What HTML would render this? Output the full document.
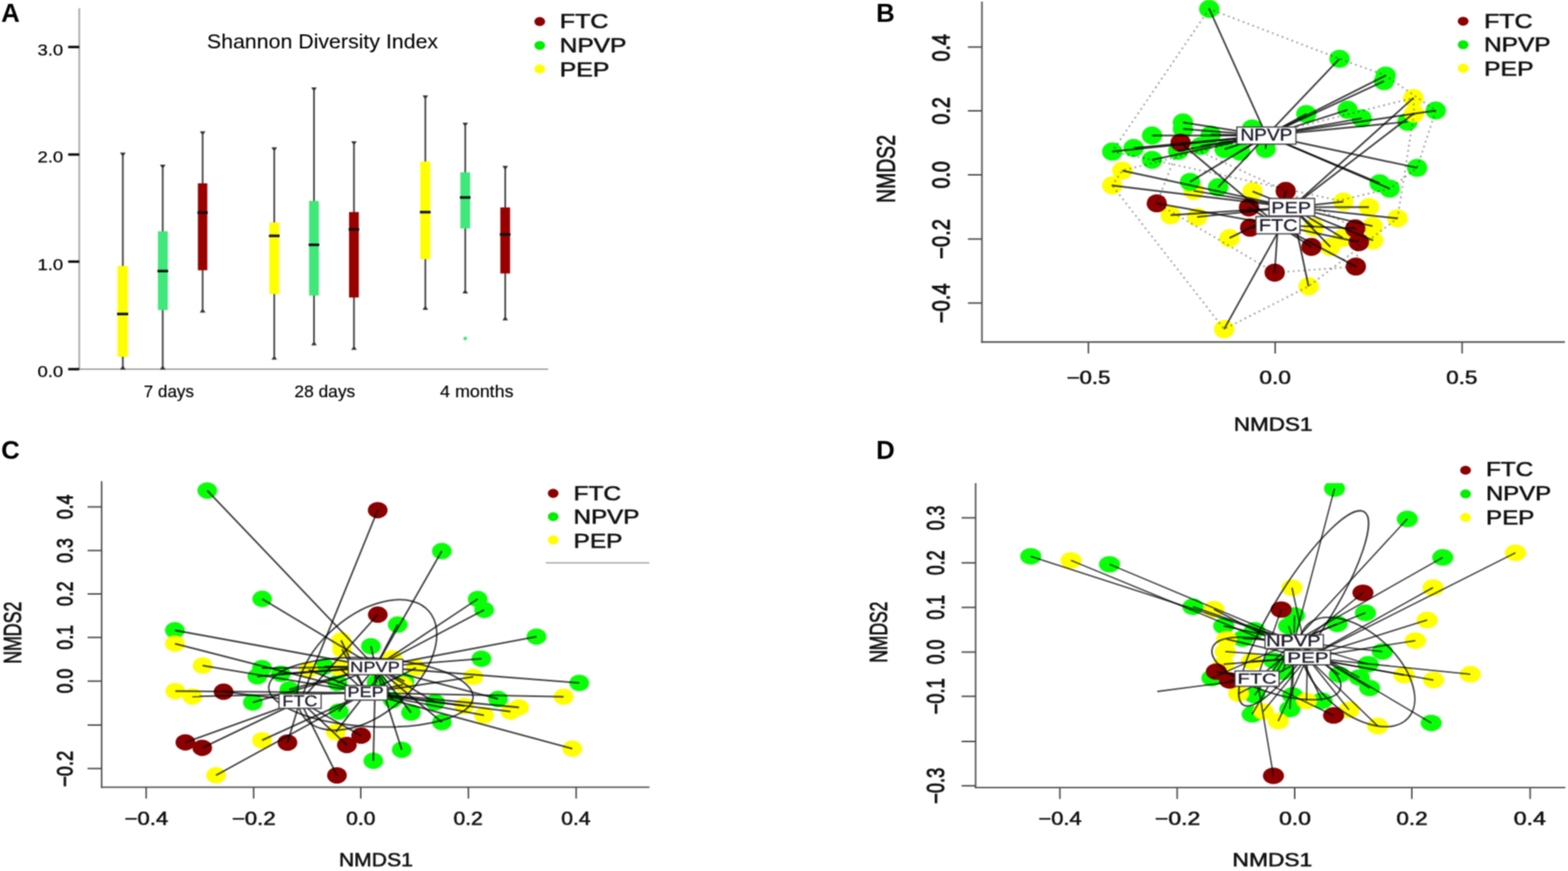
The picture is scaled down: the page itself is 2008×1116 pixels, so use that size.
<!DOCTYPE html>
<html><head><meta charset="utf-8"><title>Figure</title>
<style>
html,body{margin:0;padding:0;background:#fff;overflow:hidden;}
svg{display:block;}

</style></head>
<body>
<svg width="2008" height="1116" viewBox="0 0 2008 1116">
<defs><filter id="bl" x="0" y="0" width="1" height="1" color-interpolation-filters="sRGB"><feConvolveMatrix order="3" kernelMatrix="1 2 1 2 4 2 1 2 1" divisor="16" edgeMode="duplicate"/></filter></defs>
<rect width="2008" height="1116" fill="#fff"/>
<g filter="url(#bl)">
<rect width="2008" height="1116" fill="#fff"/>
<text x="1.5" y="28" font-family="Liberation Sans, sans-serif" font-weight="bold" font-size="33" fill="#000">A</text>
<text x="1122" y="27.6" font-family="Liberation Sans, sans-serif" font-weight="bold" font-size="33" fill="#000">B</text>
<text x="1.5" y="588.2" font-family="Liberation Sans, sans-serif" font-weight="bold" font-size="33" fill="#000">C</text>
<text x="1122" y="588.2" font-family="Liberation Sans, sans-serif" font-weight="bold" font-size="33" fill="#000">D</text>
<line x1="101.5" y1="10.5" x2="101.5" y2="474.0" stroke="#a8a8a8" stroke-width="2.2"/>
<line x1="101.5" y1="473.0" x2="702.0" y2="473.0" stroke="#a8a8a8" stroke-width="2.2"/>
<line x1="87.3" y1="60.2" x2="101.5" y2="60.2" stroke="#000" stroke-width="3.0"/>
<text x="81.0" y="70.5" font-family="Liberation Sans, sans-serif" font-size="20" font-weight="normal" fill="#000" text-anchor="end" textLength="33.0" lengthAdjust="spacingAndGlyphs" stroke="#000" stroke-width="0.25">3.0</text>
<line x1="87.3" y1="198.0" x2="101.5" y2="198.0" stroke="#000" stroke-width="3.0"/>
<text x="81.0" y="208.3" font-family="Liberation Sans, sans-serif" font-size="20" font-weight="normal" fill="#000" text-anchor="end" textLength="33.0" lengthAdjust="spacingAndGlyphs" stroke="#000" stroke-width="0.25">2.0</text>
<line x1="87.3" y1="335.2" x2="101.5" y2="335.2" stroke="#000" stroke-width="3.0"/>
<text x="81.0" y="345.5" font-family="Liberation Sans, sans-serif" font-size="20" font-weight="normal" fill="#000" text-anchor="end" textLength="33.0" lengthAdjust="spacingAndGlyphs" stroke="#000" stroke-width="0.25">1.0</text>
<line x1="87.3" y1="473.0" x2="101.5" y2="473.0" stroke="#000" stroke-width="3.0"/>
<text x="81.0" y="483.3" font-family="Liberation Sans, sans-serif" font-size="20" font-weight="normal" fill="#000" text-anchor="end" textLength="33.0" lengthAdjust="spacingAndGlyphs" stroke="#000" stroke-width="0.25">0.0</text>
<text x="265.0" y="62.3" font-family="Liberation Sans, sans-serif" font-size="26.5" font-weight="normal" fill="#000" text-anchor="start" textLength="296.0" lengthAdjust="spacingAndGlyphs" stroke="#000" stroke-width="0.1">Shannon Diversity Index</text>
<text x="184.0" y="509.2" font-family="Liberation Sans, sans-serif" font-size="22" font-weight="normal" fill="#000" text-anchor="start" textLength="64.5" lengthAdjust="spacingAndGlyphs" stroke="#000" stroke-width="0.2">7 days</text>
<text x="377.0" y="509.2" font-family="Liberation Sans, sans-serif" font-size="22" font-weight="normal" fill="#000" text-anchor="start" textLength="78.0" lengthAdjust="spacingAndGlyphs" stroke="#000" stroke-width="0.2">28 days</text>
<text x="563.6" y="509.2" font-family="Liberation Sans, sans-serif" font-size="22" font-weight="normal" fill="#000" text-anchor="start" textLength="94.0" lengthAdjust="spacingAndGlyphs" stroke="#000" stroke-width="0.2">4 months</text>
<line x1="157.3" y1="196.2" x2="157.3" y2="472.8" stroke="#444" stroke-width="2.2"/>
<polygon points="153.7,195.6 160.9,195.6 158.5,199.2 156.1,199.2" fill="#333"/>
<polygon points="153.7,473.4 160.9,473.4 158.5,469.8 156.1,469.8" fill="#333"/>
<rect x="150.5" y="340.8" width="13.1" height="116.2" fill="#ffff00"/>
<line x1="149.9" y1="402.3" x2="164.2" y2="402.3" stroke="#111" stroke-width="3.3"/>
<line x1="208.4" y1="211.7" x2="208.4" y2="472.8" stroke="#444" stroke-width="2.2"/>
<polygon points="204.8,211.1 212.0,211.1 209.6,214.7 207.2,214.7" fill="#333"/>
<polygon points="204.8,473.4 212.0,473.4 209.6,469.8 207.2,469.8" fill="#333"/>
<rect x="202.2" y="296.4" width="12.6" height="100.9" fill="#40e87a"/>
<line x1="201.6" y1="347.3" x2="215.4" y2="347.3" stroke="#111" stroke-width="3.3"/>
<line x1="259.5" y1="168.8" x2="259.5" y2="399.8" stroke="#444" stroke-width="2.2"/>
<polygon points="255.9,168.2 263.1,168.2 260.7,171.8 258.3,171.8" fill="#333"/>
<polygon points="255.9,400.4 263.1,400.4 260.7,396.8 258.3,396.8" fill="#333"/>
<rect x="253.4" y="234.9" width="12.1" height="111.4" fill="#990000"/>
<line x1="252.8" y1="272.4" x2="266.1" y2="272.4" stroke="#111" stroke-width="3.3"/>
<line x1="351.2" y1="189.4" x2="351.2" y2="460.2" stroke="#444" stroke-width="2.2"/>
<polygon points="347.6,188.8 354.8,188.8 352.4,192.4 350.0,192.4" fill="#333"/>
<polygon points="347.6,460.8 354.8,460.8 352.4,457.2 350.0,457.2" fill="#333"/>
<rect x="345.0" y="285.1" width="12.5" height="91.6" fill="#ffff00"/>
<line x1="344.4" y1="302.2" x2="358.1" y2="302.2" stroke="#111" stroke-width="3.3"/>
<line x1="402.1" y1="112.6" x2="402.1" y2="442.0" stroke="#444" stroke-width="2.2"/>
<polygon points="398.5,112.0 405.7,112.0 403.3,115.6 400.9,115.6" fill="#333"/>
<polygon points="398.5,442.6 405.7,442.6 403.3,439.0 400.9,439.0" fill="#333"/>
<rect x="395.8" y="257.4" width="12.5" height="121.3" fill="#40e87a"/>
<line x1="395.2" y1="313.7" x2="408.9" y2="313.7" stroke="#111" stroke-width="3.3"/>
<line x1="453.3" y1="181.6" x2="453.3" y2="447.7" stroke="#444" stroke-width="2.2"/>
<polygon points="449.7,181.0 456.9,181.0 454.5,184.6 452.1,184.6" fill="#333"/>
<polygon points="449.7,448.3 456.9,448.3 454.5,444.7 452.1,444.7" fill="#333"/>
<rect x="447.0" y="271.7" width="12.5" height="109.5" fill="#990000"/>
<line x1="446.4" y1="293.9" x2="460.1" y2="293.9" stroke="#111" stroke-width="3.3"/>
<line x1="544.7" y1="122.8" x2="544.7" y2="396.3" stroke="#444" stroke-width="2.2"/>
<polygon points="541.1,122.2 548.3,122.2 545.9,125.8 543.5,125.8" fill="#333"/>
<polygon points="541.1,396.9 548.3,396.9 545.9,393.3 543.5,393.3" fill="#333"/>
<rect x="538.3" y="207.0" width="12.6" height="125.0" fill="#ffff00"/>
<line x1="537.7" y1="271.8" x2="551.5" y2="271.8" stroke="#111" stroke-width="3.3"/>
<line x1="595.8" y1="157.8" x2="595.8" y2="375.5" stroke="#444" stroke-width="2.2"/>
<polygon points="592.2,157.2 599.4,157.2 597.0,160.8 594.6,160.8" fill="#333"/>
<polygon points="592.2,376.1 599.4,376.1 597.0,372.5 594.6,372.5" fill="#333"/>
<rect x="589.5" y="220.8" width="12.5" height="71.9" fill="#40e87a"/>
<line x1="588.9" y1="253.0" x2="602.6" y2="253.0" stroke="#111" stroke-width="3.3"/>
<line x1="647.0" y1="213.2" x2="647.0" y2="409.8" stroke="#444" stroke-width="2.2"/>
<polygon points="643.4,212.6 650.6,212.6 648.2,216.2 645.8,216.2" fill="#333"/>
<polygon points="643.4,410.4 650.6,410.4 648.2,406.8 645.8,406.8" fill="#333"/>
<rect x="640.7" y="265.8" width="12.5" height="84.6" fill="#990000"/>
<line x1="640.1" y1="300.4" x2="653.8" y2="300.4" stroke="#111" stroke-width="3.3"/>
<circle cx="595.8" cy="433.7" r="2.4" fill="#40e87a"/>
<ellipse cx="691.2" cy="27.6" rx="6.9" ry="5.8" fill="#8b0000"/>
<ellipse cx="691.2" cy="58.2" rx="6.9" ry="5.8" fill="#00ee00"/>
<ellipse cx="691.2" cy="88.3" rx="6.9" ry="5.8" fill="#ffff00"/>
<text x="716.8" y="36.4" font-family="Liberation Sans, sans-serif" font-size="25.5" font-weight="normal" fill="#111" text-anchor="start" textLength="62.4" lengthAdjust="spacingAndGlyphs" stroke="#111" stroke-width="0.7">FTC</text>
<text x="716.8" y="67.0" font-family="Liberation Sans, sans-serif" font-size="25.5" font-weight="normal" fill="#111" text-anchor="start" textLength="85.4" lengthAdjust="spacingAndGlyphs" stroke="#111" stroke-width="0.7">NPVP</text>
<text x="716.8" y="97.9" font-family="Liberation Sans, sans-serif" font-size="25.5" font-weight="normal" fill="#111" text-anchor="start" textLength="63.6" lengthAdjust="spacingAndGlyphs" stroke="#111" stroke-width="0.7">PEP</text>
<g id="panelB">
<line x1="1257.5" y1="2.0" x2="1257.5" y2="439.2" stroke="#4a4a4a" stroke-width="1.9"/>
<line x1="1256.6" y1="438.3" x2="2004.0" y2="438.3" stroke="#4a4a4a" stroke-width="1.9"/>
<line x1="1239.5" y1="60.3" x2="1257.5" y2="60.3" stroke="#4a4a4a" stroke-width="1.9"/>
<line x1="1239.5" y1="142.0" x2="1257.5" y2="142.0" stroke="#4a4a4a" stroke-width="1.9"/>
<line x1="1239.5" y1="224.0" x2="1257.5" y2="224.0" stroke="#4a4a4a" stroke-width="1.9"/>
<line x1="1239.5" y1="306.3" x2="1257.5" y2="306.3" stroke="#4a4a4a" stroke-width="1.9"/>
<line x1="1239.5" y1="388.3" x2="1257.5" y2="388.3" stroke="#4a4a4a" stroke-width="1.9"/>
<line x1="1393.8" y1="438.3" x2="1393.8" y2="452.9" stroke="#4a4a4a" stroke-width="1.9"/>
<line x1="1633.0" y1="438.3" x2="1633.0" y2="452.9" stroke="#4a4a4a" stroke-width="1.9"/>
<line x1="1872.4" y1="438.3" x2="1872.4" y2="452.9" stroke="#4a4a4a" stroke-width="1.9"/>
<g transform="translate(1216.2,61.2) scale(1.62,1) rotate(-90)"><text x="0" y="0" font-family="Liberation Sans, sans-serif" font-size="19.5" fill="#111" text-anchor="middle" textLength="35.0" lengthAdjust="spacingAndGlyphs" stroke="#111" stroke-width="0.7">0.4</text></g>
<g transform="translate(1216.2,142.0) scale(1.62,1) rotate(-90)"><text x="0" y="0" font-family="Liberation Sans, sans-serif" font-size="19.5" fill="#111" text-anchor="middle" textLength="35.0" lengthAdjust="spacingAndGlyphs" stroke="#111" stroke-width="0.7">0.2</text></g>
<g transform="translate(1216.2,224.0) scale(1.62,1) rotate(-90)"><text x="0" y="0" font-family="Liberation Sans, sans-serif" font-size="19.5" fill="#111" text-anchor="middle" textLength="35.0" lengthAdjust="spacingAndGlyphs" stroke="#111" stroke-width="0.7">0.0</text></g>
<g transform="translate(1216.2,306.2) scale(1.62,1) rotate(-90)"><text x="0" y="0" font-family="Liberation Sans, sans-serif" font-size="19.5" fill="#111" text-anchor="middle" textLength="51.0" lengthAdjust="spacingAndGlyphs" stroke="#111" stroke-width="0.7">−0.2</text></g>
<g transform="translate(1216.2,388.6) scale(1.62,1) rotate(-90)"><text x="0" y="0" font-family="Liberation Sans, sans-serif" font-size="19.5" fill="#111" text-anchor="middle" textLength="51.0" lengthAdjust="spacingAndGlyphs" stroke="#111" stroke-width="0.7">−0.4</text></g>
<text x="1394.0" y="492.3" font-family="Liberation Sans, sans-serif" font-size="24" font-weight="normal" fill="#111" text-anchor="middle" textLength="56.0" lengthAdjust="spacingAndGlyphs" stroke="#111" stroke-width="0.7">−0.5</text>
<text x="1633.0" y="492.3" font-family="Liberation Sans, sans-serif" font-size="24" font-weight="normal" fill="#111" text-anchor="middle" textLength="40.5" lengthAdjust="spacingAndGlyphs" stroke="#111" stroke-width="0.7">0.0</text>
<text x="1872.0" y="492.3" font-family="Liberation Sans, sans-serif" font-size="24" font-weight="normal" fill="#111" text-anchor="middle" textLength="40.0" lengthAdjust="spacingAndGlyphs" stroke="#111" stroke-width="0.7">0.5</text>
<text x="1630.3" y="552.3" font-family="Liberation Sans, sans-serif" font-size="24.5" font-weight="normal" fill="#111" text-anchor="middle" textLength="100.7" lengthAdjust="spacingAndGlyphs" stroke="#111" stroke-width="0.7">NMDS1</text>
<g transform="translate(1146.4,216.5) scale(1.33,1) rotate(-90)"><text x="0" y="0" font-family="Liberation Sans, sans-serif" font-size="24.5" fill="#111" text-anchor="middle" textLength="87.0" lengthAdjust="spacingAndGlyphs" stroke="#111" stroke-width="0.7">NMDS2</text></g>
<ellipse cx="1437.2" cy="218.6" rx="13" ry="11.6" fill="#ffff00"/>
<ellipse cx="1424.3" cy="237.6" rx="13" ry="11.6" fill="#ffff00"/>
<ellipse cx="1528.6" cy="244.5" rx="13" ry="11.6" fill="#ffff00"/>
<ellipse cx="1604.0" cy="245.2" rx="13" ry="11.6" fill="#ffff00"/>
<ellipse cx="1499.0" cy="275.7" rx="13" ry="11.6" fill="#ffff00"/>
<ellipse cx="1533.2" cy="278.0" rx="13" ry="11.6" fill="#ffff00"/>
<ellipse cx="1574.5" cy="305.1" rx="13" ry="11.6" fill="#ffff00"/>
<ellipse cx="1567.6" cy="421.7" rx="13" ry="11.6" fill="#ffff00"/>
<ellipse cx="1675.8" cy="366.9" rx="13" ry="11.6" fill="#ffff00"/>
<ellipse cx="1720.3" cy="258.4" rx="13" ry="11.6" fill="#ffff00"/>
<ellipse cx="1753.1" cy="265.3" rx="13" ry="11.6" fill="#ffff00"/>
<ellipse cx="1789.6" cy="279.8" rx="13" ry="11.6" fill="#ffff00"/>
<ellipse cx="1682.3" cy="291.2" rx="13" ry="11.6" fill="#ffff00"/>
<ellipse cx="1757.7" cy="289.7" rx="13" ry="11.6" fill="#ffff00"/>
<ellipse cx="1719.6" cy="304.9" rx="13" ry="11.6" fill="#ffff00"/>
<ellipse cx="1758.4" cy="308.0" rx="13" ry="11.6" fill="#ffff00"/>
<ellipse cx="1703.6" cy="316.3" rx="13" ry="11.6" fill="#ffff00"/>
<ellipse cx="1548.6" cy="11.4" rx="13" ry="11.6" fill="#08ff08"/>
<ellipse cx="1424.3" cy="194.2" rx="13" ry="11.6" fill="#08ff08"/>
<ellipse cx="1451.7" cy="189.6" rx="13" ry="11.6" fill="#08ff08"/>
<ellipse cx="1475.3" cy="173.6" rx="13" ry="11.6" fill="#08ff08"/>
<ellipse cx="1475.3" cy="204.8" rx="13" ry="11.6" fill="#08ff08"/>
<ellipse cx="1514.9" cy="156.9" rx="13" ry="11.6" fill="#08ff08"/>
<ellipse cx="1514.9" cy="165.2" rx="13" ry="11.6" fill="#08ff08"/>
<ellipse cx="1508.8" cy="193.4" rx="13" ry="11.6" fill="#08ff08"/>
<ellipse cx="1537.7" cy="187.0" rx="13" ry="11.6" fill="#08ff08"/>
<ellipse cx="1550.5" cy="172.5" rx="13" ry="11.6" fill="#08ff08"/>
<ellipse cx="1568.2" cy="191.1" rx="13" ry="11.6" fill="#08ff08"/>
<ellipse cx="1588.0" cy="194.2" rx="13" ry="11.6" fill="#08ff08"/>
<ellipse cx="1603.5" cy="164.5" rx="13" ry="11.6" fill="#08ff08"/>
<ellipse cx="1620.8" cy="190.8" rx="13" ry="11.6" fill="#08ff08"/>
<ellipse cx="1672.9" cy="146.0" rx="13" ry="11.6" fill="#08ff08"/>
<ellipse cx="1715.4" cy="75.3" rx="13" ry="11.6" fill="#08ff08"/>
<ellipse cx="1774.5" cy="96.8" rx="13" ry="11.6" fill="#08ff08"/>
<ellipse cx="1772.4" cy="104.0" rx="13" ry="11.6" fill="#08ff08"/>
<ellipse cx="1725.8" cy="140.7" rx="13" ry="11.6" fill="#08ff08"/>
<ellipse cx="1743.7" cy="151.5" rx="13" ry="11.6" fill="#08ff08"/>
<ellipse cx="1802.5" cy="156.0" rx="13" ry="11.6" fill="#08ff08"/>
<ellipse cx="1838.7" cy="141.6" rx="13" ry="11.6" fill="#08ff08"/>
<ellipse cx="1814.8" cy="215.0" rx="13" ry="11.6" fill="#08ff08"/>
<ellipse cx="1766.8" cy="234.8" rx="13" ry="11.6" fill="#08ff08"/>
<ellipse cx="1779.7" cy="241.7" rx="13" ry="11.6" fill="#08ff08"/>
<ellipse cx="1524.0" cy="233.0" rx="13" ry="11.6" fill="#08ff08"/>
<ellipse cx="1559.9" cy="239.9" rx="13" ry="11.6" fill="#08ff08"/>
<ellipse cx="1810.0" cy="125.5" rx="13" ry="11.6" fill="#ffff00"/>
<ellipse cx="1810.9" cy="145.2" rx="13" ry="11.6" fill="#ffff00"/>
<ellipse cx="1511.9" cy="182.8" rx="13" ry="11.6" fill="#8b0000"/>
<ellipse cx="1481.4" cy="260.5" rx="13" ry="11.6" fill="#8b0000"/>
<ellipse cx="1599.5" cy="265.8" rx="13" ry="11.6" fill="#8b0000"/>
<ellipse cx="1601.0" cy="291.7" rx="13" ry="11.6" fill="#8b0000"/>
<ellipse cx="1646.5" cy="244.7" rx="13" ry="11.6" fill="#8b0000"/>
<ellipse cx="1735.6" cy="292.7" rx="13" ry="11.6" fill="#8b0000"/>
<ellipse cx="1740.1" cy="310.2" rx="13" ry="11.6" fill="#8b0000"/>
<ellipse cx="1679.4" cy="316.4" rx="13" ry="11.6" fill="#8b0000"/>
<ellipse cx="1632.4" cy="349.3" rx="13" ry="11.6" fill="#8b0000"/>
<ellipse cx="1736.3" cy="341.5" rx="13" ry="11.6" fill="#8b0000"/>
<path d="M1548.6,11.4 L1715.4,75.3 L1774.5,96.8 L1838.7,141.6 L1814.8,215.0 L1779.7,241.7 L1715.0,257.0 L1475.3,204.8 L1424.3,194.2 Z" fill="none" stroke="#000" stroke-opacity="0.36" stroke-width="2.6" stroke-dasharray="0,6.7" stroke-linecap="round"/>
<path d="M1424.3,237.6 L1437.2,218.6 L1810.0,125.5 L1810.9,145.2 L1789.6,279.8 L1675.8,366.9 L1567.6,421.7 Z" fill="none" stroke="#000" stroke-opacity="0.36" stroke-width="2.6" stroke-dasharray="0,6.7" stroke-linecap="round"/>
<path d="M1481.4,260.5 L1511.9,182.8 L1646.5,244.7 L1735.6,292.7 L1740.1,310.2 L1736.3,341.5 L1632.4,349.3 Z" fill="none" stroke="#000" stroke-opacity="0.36" stroke-width="2.6" stroke-dasharray="0,6.7" stroke-linecap="round"/>
<line x1="1621.8" y1="173.7" x2="1548.6" y2="11.4" stroke="#000" stroke-width="2.2" stroke-opacity="0.75"/>
<line x1="1621.8" y1="173.7" x2="1424.3" y2="194.2" stroke="#000" stroke-width="2.2" stroke-opacity="0.75"/>
<line x1="1621.8" y1="173.7" x2="1451.7" y2="189.6" stroke="#000" stroke-width="2.2" stroke-opacity="0.75"/>
<line x1="1621.8" y1="173.7" x2="1475.3" y2="173.6" stroke="#000" stroke-width="2.2" stroke-opacity="0.75"/>
<line x1="1621.8" y1="173.7" x2="1475.3" y2="204.8" stroke="#000" stroke-width="2.2" stroke-opacity="0.75"/>
<line x1="1621.8" y1="173.7" x2="1514.9" y2="156.9" stroke="#000" stroke-width="2.2" stroke-opacity="0.75"/>
<line x1="1621.8" y1="173.7" x2="1514.9" y2="165.2" stroke="#000" stroke-width="2.2" stroke-opacity="0.75"/>
<line x1="1621.8" y1="173.7" x2="1508.8" y2="193.4" stroke="#000" stroke-width="2.2" stroke-opacity="0.75"/>
<line x1="1621.8" y1="173.7" x2="1537.7" y2="187.0" stroke="#000" stroke-width="2.2" stroke-opacity="0.75"/>
<line x1="1621.8" y1="173.7" x2="1550.5" y2="172.5" stroke="#000" stroke-width="2.2" stroke-opacity="0.75"/>
<line x1="1621.8" y1="173.7" x2="1568.2" y2="191.1" stroke="#000" stroke-width="2.2" stroke-opacity="0.75"/>
<line x1="1621.8" y1="173.7" x2="1588.0" y2="194.2" stroke="#000" stroke-width="2.2" stroke-opacity="0.75"/>
<line x1="1621.8" y1="173.7" x2="1603.5" y2="164.5" stroke="#000" stroke-width="2.2" stroke-opacity="0.75"/>
<line x1="1621.8" y1="173.7" x2="1620.8" y2="190.8" stroke="#000" stroke-width="2.2" stroke-opacity="0.75"/>
<line x1="1621.8" y1="173.7" x2="1672.9" y2="146.0" stroke="#000" stroke-width="2.2" stroke-opacity="0.75"/>
<line x1="1621.8" y1="173.7" x2="1715.4" y2="75.3" stroke="#000" stroke-width="2.2" stroke-opacity="0.75"/>
<line x1="1621.8" y1="173.7" x2="1774.5" y2="96.8" stroke="#000" stroke-width="2.2" stroke-opacity="0.75"/>
<line x1="1621.8" y1="173.7" x2="1772.4" y2="104.0" stroke="#000" stroke-width="2.2" stroke-opacity="0.75"/>
<line x1="1621.8" y1="173.7" x2="1725.8" y2="140.7" stroke="#000" stroke-width="2.2" stroke-opacity="0.75"/>
<line x1="1621.8" y1="173.7" x2="1743.7" y2="151.5" stroke="#000" stroke-width="2.2" stroke-opacity="0.75"/>
<line x1="1621.8" y1="173.7" x2="1802.5" y2="156.0" stroke="#000" stroke-width="2.2" stroke-opacity="0.75"/>
<line x1="1621.8" y1="173.7" x2="1838.7" y2="141.6" stroke="#000" stroke-width="2.2" stroke-opacity="0.75"/>
<line x1="1621.8" y1="173.7" x2="1814.8" y2="215.0" stroke="#000" stroke-width="2.2" stroke-opacity="0.75"/>
<line x1="1621.8" y1="173.7" x2="1766.8" y2="234.8" stroke="#000" stroke-width="2.2" stroke-opacity="0.75"/>
<line x1="1621.8" y1="173.7" x2="1779.7" y2="241.7" stroke="#000" stroke-width="2.2" stroke-opacity="0.75"/>
<line x1="1621.8" y1="173.7" x2="1524.0" y2="233.0" stroke="#000" stroke-width="2.2" stroke-opacity="0.75"/>
<line x1="1621.8" y1="173.7" x2="1559.9" y2="239.9" stroke="#000" stroke-width="2.2" stroke-opacity="0.75"/>
<line x1="1636.5" y1="288.5" x2="1511.9" y2="182.8" stroke="#000" stroke-width="2.2" stroke-opacity="0.75"/>
<line x1="1636.5" y1="288.5" x2="1481.4" y2="260.5" stroke="#000" stroke-width="2.2" stroke-opacity="0.75"/>
<line x1="1636.5" y1="288.5" x2="1599.5" y2="265.8" stroke="#000" stroke-width="2.2" stroke-opacity="0.75"/>
<line x1="1636.5" y1="288.5" x2="1601.0" y2="291.7" stroke="#000" stroke-width="2.2" stroke-opacity="0.75"/>
<line x1="1636.5" y1="288.5" x2="1646.5" y2="244.7" stroke="#000" stroke-width="2.2" stroke-opacity="0.75"/>
<line x1="1636.5" y1="288.5" x2="1735.6" y2="292.7" stroke="#000" stroke-width="2.2" stroke-opacity="0.75"/>
<line x1="1636.5" y1="288.5" x2="1740.1" y2="310.2" stroke="#000" stroke-width="2.2" stroke-opacity="0.75"/>
<line x1="1636.5" y1="288.5" x2="1679.4" y2="316.4" stroke="#000" stroke-width="2.2" stroke-opacity="0.75"/>
<line x1="1636.5" y1="288.5" x2="1632.4" y2="349.3" stroke="#000" stroke-width="2.2" stroke-opacity="0.75"/>
<line x1="1636.5" y1="288.5" x2="1736.3" y2="341.5" stroke="#000" stroke-width="2.2" stroke-opacity="0.75"/>
<line x1="1654.3" y1="265.5" x2="1437.2" y2="218.6" stroke="#000" stroke-width="2.2" stroke-opacity="0.75"/>
<line x1="1654.3" y1="265.5" x2="1424.3" y2="237.6" stroke="#000" stroke-width="2.2" stroke-opacity="0.75"/>
<line x1="1654.3" y1="265.5" x2="1528.6" y2="244.5" stroke="#000" stroke-width="2.2" stroke-opacity="0.75"/>
<line x1="1654.3" y1="265.5" x2="1604.0" y2="245.2" stroke="#000" stroke-width="2.2" stroke-opacity="0.75"/>
<line x1="1654.3" y1="265.5" x2="1499.0" y2="275.7" stroke="#000" stroke-width="2.2" stroke-opacity="0.75"/>
<line x1="1654.3" y1="265.5" x2="1533.2" y2="278.0" stroke="#000" stroke-width="2.2" stroke-opacity="0.75"/>
<line x1="1654.3" y1="265.5" x2="1574.5" y2="305.1" stroke="#000" stroke-width="2.2" stroke-opacity="0.75"/>
<line x1="1654.3" y1="265.5" x2="1567.6" y2="421.7" stroke="#000" stroke-width="2.2" stroke-opacity="0.75"/>
<line x1="1654.3" y1="265.5" x2="1675.8" y2="366.9" stroke="#000" stroke-width="2.2" stroke-opacity="0.75"/>
<line x1="1654.3" y1="265.5" x2="1810.0" y2="125.5" stroke="#000" stroke-width="2.2" stroke-opacity="0.75"/>
<line x1="1654.3" y1="265.5" x2="1810.9" y2="145.2" stroke="#000" stroke-width="2.2" stroke-opacity="0.75"/>
<line x1="1654.3" y1="265.5" x2="1720.3" y2="258.4" stroke="#000" stroke-width="2.2" stroke-opacity="0.75"/>
<line x1="1654.3" y1="265.5" x2="1753.1" y2="265.3" stroke="#000" stroke-width="2.2" stroke-opacity="0.75"/>
<line x1="1654.3" y1="265.5" x2="1789.6" y2="279.8" stroke="#000" stroke-width="2.2" stroke-opacity="0.75"/>
<line x1="1654.3" y1="265.5" x2="1682.3" y2="291.2" stroke="#000" stroke-width="2.2" stroke-opacity="0.75"/>
<line x1="1654.3" y1="265.5" x2="1757.7" y2="289.7" stroke="#000" stroke-width="2.2" stroke-opacity="0.75"/>
<line x1="1654.3" y1="265.5" x2="1719.6" y2="304.9" stroke="#000" stroke-width="2.2" stroke-opacity="0.75"/>
<line x1="1654.3" y1="265.5" x2="1758.4" y2="308.0" stroke="#000" stroke-width="2.2" stroke-opacity="0.75"/>
<line x1="1654.3" y1="265.5" x2="1703.6" y2="316.3" stroke="#000" stroke-width="2.2" stroke-opacity="0.75"/>
<rect x="1584.0" y="162.7" width="75.6" height="22.0" fill="#fff" stroke="#444" stroke-width="1.6"/>
<text x="1588.4" y="179.8" font-family="Liberation Sans, sans-serif" font-size="21.22" font-weight="normal" fill="#1a1a2a" text-anchor="start" textLength="66.8" lengthAdjust="spacingAndGlyphs" stroke="#1a1a2a" stroke-width="0.35">NPVP</text>
<rect x="1625.1" y="254.3" width="58.4" height="22.4" fill="#fff" stroke="#444" stroke-width="1.6"/>
<text x="1628.1" y="272.9" font-family="Liberation Sans, sans-serif" font-size="21.08" font-weight="normal" fill="#1a1a2a" text-anchor="start" textLength="50.7" lengthAdjust="spacingAndGlyphs" stroke="#1a1a2a" stroke-width="0.35">PEP</text>
<rect x="1608.4" y="277.5" width="56.3" height="22.1" fill="#fff" stroke="#444" stroke-width="1.6"/>
<text x="1612.1" y="295.6" font-family="Liberation Sans, sans-serif" font-size="21.95" font-weight="normal" fill="#1a1a2a" text-anchor="start" textLength="49.7" lengthAdjust="spacingAndGlyphs" stroke="#1a1a2a" stroke-width="0.35">FTC</text>
<ellipse cx="1873.7" cy="27.2" rx="6.9" ry="5.8" fill="#8b0000"/>
<ellipse cx="1873.7" cy="57.3" rx="6.9" ry="5.8" fill="#00ee00"/>
<ellipse cx="1873.7" cy="87.4" rx="6.9" ry="5.8" fill="#ffff00"/>
<text x="1900.4" y="35.8" font-family="Liberation Sans, sans-serif" font-size="25.5" font-weight="normal" fill="#111" text-anchor="start" textLength="62.4" lengthAdjust="spacingAndGlyphs" stroke="#111" stroke-width="0.7">FTC</text>
<text x="1900.4" y="66.3" font-family="Liberation Sans, sans-serif" font-size="25.5" font-weight="normal" fill="#111" text-anchor="start" textLength="85.4" lengthAdjust="spacingAndGlyphs" stroke="#111" stroke-width="0.7">NPVP</text>
<text x="1900.4" y="96.7" font-family="Liberation Sans, sans-serif" font-size="25.5" font-weight="normal" fill="#111" text-anchor="start" textLength="63.6" lengthAdjust="spacingAndGlyphs" stroke="#111" stroke-width="0.7">PEP</text>
</g>
<g id="panelC">
<line x1="130.2" y1="616.5" x2="130.2" y2="1009.5" stroke="#4a4a4a" stroke-width="1.9"/>
<line x1="129.3" y1="1008.6" x2="831.7" y2="1008.6" stroke="#4a4a4a" stroke-width="1.9"/>
<line x1="112.2" y1="649.5" x2="130.2" y2="649.5" stroke="#4a4a4a" stroke-width="1.9"/>
<line x1="112.2" y1="705.4" x2="130.2" y2="705.4" stroke="#4a4a4a" stroke-width="1.9"/>
<line x1="112.2" y1="761.0" x2="130.2" y2="761.0" stroke="#4a4a4a" stroke-width="1.9"/>
<line x1="112.2" y1="816.7" x2="130.2" y2="816.7" stroke="#4a4a4a" stroke-width="1.9"/>
<line x1="112.2" y1="872.7" x2="130.2" y2="872.7" stroke="#4a4a4a" stroke-width="1.9"/>
<line x1="112.2" y1="929.0" x2="130.2" y2="929.0" stroke="#4a4a4a" stroke-width="1.9"/>
<line x1="112.2" y1="984.7" x2="130.2" y2="984.7" stroke="#4a4a4a" stroke-width="1.9"/>
<line x1="187.2" y1="1008.6" x2="187.2" y2="1023.2" stroke="#4a4a4a" stroke-width="1.9"/>
<line x1="324.8" y1="1008.6" x2="324.8" y2="1023.2" stroke="#4a4a4a" stroke-width="1.9"/>
<line x1="462.0" y1="1008.6" x2="462.0" y2="1023.2" stroke="#4a4a4a" stroke-width="1.9"/>
<line x1="599.8" y1="1008.6" x2="599.8" y2="1023.2" stroke="#4a4a4a" stroke-width="1.9"/>
<line x1="737.8" y1="1008.6" x2="737.8" y2="1023.2" stroke="#4a4a4a" stroke-width="1.9"/>
<g transform="translate(92.6,649.5) scale(1.53,1) rotate(-90)"><text x="0" y="0" font-family="Liberation Sans, sans-serif" font-size="19.5" fill="#111" text-anchor="middle" textLength="31.5" lengthAdjust="spacingAndGlyphs" stroke="#111" stroke-width="0.7">0.4</text></g>
<g transform="translate(92.6,705.4) scale(1.53,1) rotate(-90)"><text x="0" y="0" font-family="Liberation Sans, sans-serif" font-size="19.5" fill="#111" text-anchor="middle" textLength="31.5" lengthAdjust="spacingAndGlyphs" stroke="#111" stroke-width="0.7">0.3</text></g>
<g transform="translate(92.6,761.0) scale(1.53,1) rotate(-90)"><text x="0" y="0" font-family="Liberation Sans, sans-serif" font-size="19.5" fill="#111" text-anchor="middle" textLength="31.5" lengthAdjust="spacingAndGlyphs" stroke="#111" stroke-width="0.7">0.2</text></g>
<g transform="translate(92.6,816.7) scale(1.53,1) rotate(-90)"><text x="0" y="0" font-family="Liberation Sans, sans-serif" font-size="19.5" fill="#111" text-anchor="middle" textLength="31.5" lengthAdjust="spacingAndGlyphs" stroke="#111" stroke-width="0.7">0.1</text></g>
<g transform="translate(92.6,872.7) scale(1.53,1) rotate(-90)"><text x="0" y="0" font-family="Liberation Sans, sans-serif" font-size="19.5" fill="#111" text-anchor="middle" textLength="31.5" lengthAdjust="spacingAndGlyphs" stroke="#111" stroke-width="0.7">0.0</text></g>
<g transform="translate(92.6,985.2) scale(1.53,1) rotate(-90)"><text x="0" y="0" font-family="Liberation Sans, sans-serif" font-size="19.5" fill="#111" text-anchor="middle" textLength="46.3" lengthAdjust="spacingAndGlyphs" stroke="#111" stroke-width="0.7">−0.2</text></g>
<text x="187.5" y="1056.9" font-family="Liberation Sans, sans-serif" font-size="24" font-weight="normal" fill="#111" text-anchor="middle" textLength="56.0" lengthAdjust="spacingAndGlyphs" stroke="#111" stroke-width="0.7">−0.4</text>
<text x="325.0" y="1056.9" font-family="Liberation Sans, sans-serif" font-size="24" font-weight="normal" fill="#111" text-anchor="middle" textLength="56.0" lengthAdjust="spacingAndGlyphs" stroke="#111" stroke-width="0.7">−0.2</text>
<text x="462.0" y="1056.9" font-family="Liberation Sans, sans-serif" font-size="24" font-weight="normal" fill="#111" text-anchor="middle" textLength="37.5" lengthAdjust="spacingAndGlyphs" stroke="#111" stroke-width="0.7">0.0</text>
<text x="599.5" y="1056.9" font-family="Liberation Sans, sans-serif" font-size="24" font-weight="normal" fill="#111" text-anchor="middle" textLength="37.5" lengthAdjust="spacingAndGlyphs" stroke="#111" stroke-width="0.7">0.2</text>
<text x="737.5" y="1056.9" font-family="Liberation Sans, sans-serif" font-size="24" font-weight="normal" fill="#111" text-anchor="middle" textLength="37.5" lengthAdjust="spacingAndGlyphs" stroke="#111" stroke-width="0.7">0.4</text>
<text x="481.4" y="1110.0" font-family="Liberation Sans, sans-serif" font-size="24.5" font-weight="normal" fill="#111" text-anchor="middle" textLength="94.6" lengthAdjust="spacingAndGlyphs" stroke="#111" stroke-width="0.7">NMDS1</text>
<g transform="translate(26.9,810.7) scale(1.26,1) rotate(-90)"><text x="0" y="0" font-family="Liberation Sans, sans-serif" font-size="24.5" fill="#111" text-anchor="middle" textLength="79.6" lengthAdjust="spacingAndGlyphs" stroke="#111" stroke-width="0.7">NMDS2</text></g>
<ellipse cx="265.4" cy="628.5" rx="12.6" ry="10.5" fill="#08ff08"/>
<ellipse cx="565.8" cy="706.1" rx="12.6" ry="10.5" fill="#08ff08"/>
<ellipse cx="335.7" cy="767.3" rx="12.6" ry="10.5" fill="#08ff08"/>
<ellipse cx="611.7" cy="767.5" rx="12.6" ry="10.5" fill="#08ff08"/>
<ellipse cx="620.0" cy="781.4" rx="12.6" ry="10.5" fill="#08ff08"/>
<ellipse cx="509.2" cy="800.3" rx="12.6" ry="10.5" fill="#08ff08"/>
<ellipse cx="223.9" cy="807.6" rx="12.6" ry="10.5" fill="#08ff08"/>
<ellipse cx="687.0" cy="815.7" rx="12.6" ry="10.5" fill="#08ff08"/>
<ellipse cx="475.0" cy="828.0" rx="12.6" ry="10.5" fill="#08ff08"/>
<ellipse cx="616.5" cy="844.0" rx="12.6" ry="10.5" fill="#08ff08"/>
<ellipse cx="335.5" cy="856.0" rx="12.6" ry="10.5" fill="#08ff08"/>
<ellipse cx="415.3" cy="854.0" rx="12.6" ry="10.5" fill="#08ff08"/>
<ellipse cx="329.5" cy="866.6" rx="12.6" ry="10.5" fill="#08ff08"/>
<ellipse cx="359.7" cy="863.3" rx="12.6" ry="10.5" fill="#08ff08"/>
<ellipse cx="741.8" cy="875.0" rx="12.6" ry="10.5" fill="#08ff08"/>
<ellipse cx="370.5" cy="883.3" rx="12.6" ry="10.5" fill="#08ff08"/>
<ellipse cx="323.8" cy="900.0" rx="12.6" ry="10.5" fill="#08ff08"/>
<ellipse cx="433.8" cy="911.7" rx="12.6" ry="10.5" fill="#08ff08"/>
<ellipse cx="526.3" cy="913.0" rx="12.6" ry="10.5" fill="#08ff08"/>
<ellipse cx="565.9" cy="925.3" rx="12.6" ry="10.5" fill="#08ff08"/>
<ellipse cx="637.8" cy="895.6" rx="12.6" ry="10.5" fill="#08ff08"/>
<ellipse cx="557.2" cy="899.8" rx="12.6" ry="10.5" fill="#08ff08"/>
<ellipse cx="502.8" cy="896.9" rx="12.6" ry="10.5" fill="#08ff08"/>
<ellipse cx="514.5" cy="960.7" rx="12.6" ry="10.5" fill="#08ff08"/>
<ellipse cx="478.1" cy="974.8" rx="12.6" ry="10.5" fill="#08ff08"/>
<ellipse cx="432.0" cy="875.0" rx="12.6" ry="10.5" fill="#08ff08"/>
<ellipse cx="518.0" cy="873.0" rx="12.6" ry="10.5" fill="#08ff08"/>
<ellipse cx="482.3" cy="874.2" rx="12.6" ry="10.5" fill="#08ff08"/>
<ellipse cx="224.0" cy="824.7" rx="12.6" ry="10.5" fill="#ffff00"/>
<ellipse cx="259.4" cy="852.8" rx="12.6" ry="10.5" fill="#ffff00"/>
<ellipse cx="224.5" cy="885.5" rx="12.6" ry="10.5" fill="#ffff00"/>
<ellipse cx="246.3" cy="892.4" rx="12.6" ry="10.5" fill="#ffff00"/>
<ellipse cx="335.5" cy="948.5" rx="12.6" ry="10.5" fill="#ffff00"/>
<ellipse cx="276.6" cy="993.3" rx="12.6" ry="10.5" fill="#ffff00"/>
<ellipse cx="436.9" cy="820.5" rx="12.6" ry="10.5" fill="#ffff00"/>
<ellipse cx="438.0" cy="832.0" rx="12.6" ry="10.5" fill="#ffff00"/>
<ellipse cx="395.2" cy="858.2" rx="12.6" ry="10.5" fill="#ffff00"/>
<ellipse cx="502.5" cy="843.5" rx="12.6" ry="10.5" fill="#ffff00"/>
<ellipse cx="532.6" cy="855.6" rx="12.6" ry="10.5" fill="#ffff00"/>
<ellipse cx="606.0" cy="867.2" rx="12.6" ry="10.5" fill="#ffff00"/>
<ellipse cx="516.0" cy="877.2" rx="12.6" ry="10.5" fill="#ffff00"/>
<ellipse cx="594.5" cy="904.5" rx="12.6" ry="10.5" fill="#ffff00"/>
<ellipse cx="619.8" cy="916.5" rx="12.6" ry="10.5" fill="#ffff00"/>
<ellipse cx="653.7" cy="911.7" rx="12.6" ry="10.5" fill="#ffff00"/>
<ellipse cx="664.6" cy="906.4" rx="12.6" ry="10.5" fill="#ffff00"/>
<ellipse cx="721.7" cy="892.7" rx="12.6" ry="10.5" fill="#ffff00"/>
<ellipse cx="732.9" cy="959.3" rx="12.6" ry="10.5" fill="#ffff00"/>
<ellipse cx="430.0" cy="938.0" rx="12.6" ry="10.5" fill="#ffff00"/>
<ellipse cx="436.0" cy="857.0" rx="12.6" ry="10.5" fill="#ffff00"/>
<ellipse cx="483.7" cy="653.7" rx="12.6" ry="10.5" fill="#8b0000"/>
<ellipse cx="483.8" cy="787.6" rx="12.6" ry="10.5" fill="#8b0000"/>
<ellipse cx="286.3" cy="886.3" rx="12.6" ry="10.5" fill="#8b0000"/>
<ellipse cx="237.4" cy="951.2" rx="12.6" ry="10.5" fill="#8b0000"/>
<ellipse cx="259.0" cy="958.2" rx="12.6" ry="10.5" fill="#8b0000"/>
<ellipse cx="368.1" cy="951.5" rx="12.6" ry="10.5" fill="#8b0000"/>
<ellipse cx="462.5" cy="942.6" rx="12.6" ry="10.5" fill="#8b0000"/>
<ellipse cx="444.2" cy="954.5" rx="12.6" ry="10.5" fill="#8b0000"/>
<ellipse cx="431.5" cy="993.5" rx="12.6" ry="10.5" fill="#8b0000"/>
<line x1="480.9" y1="854.6" x2="265.4" y2="628.5" stroke="#000" stroke-width="2.1" stroke-opacity="0.75"/>
<line x1="480.9" y1="854.6" x2="565.8" y2="706.1" stroke="#000" stroke-width="2.1" stroke-opacity="0.75"/>
<line x1="480.9" y1="854.6" x2="335.7" y2="767.3" stroke="#000" stroke-width="2.1" stroke-opacity="0.75"/>
<line x1="480.9" y1="854.6" x2="611.7" y2="767.5" stroke="#000" stroke-width="2.1" stroke-opacity="0.75"/>
<line x1="480.9" y1="854.6" x2="620.0" y2="781.4" stroke="#000" stroke-width="2.1" stroke-opacity="0.75"/>
<line x1="480.9" y1="854.6" x2="509.2" y2="800.3" stroke="#000" stroke-width="2.1" stroke-opacity="0.75"/>
<line x1="480.9" y1="854.6" x2="223.9" y2="807.6" stroke="#000" stroke-width="2.1" stroke-opacity="0.75"/>
<line x1="480.9" y1="854.6" x2="687.0" y2="815.7" stroke="#000" stroke-width="2.1" stroke-opacity="0.75"/>
<line x1="480.9" y1="854.6" x2="475.0" y2="828.0" stroke="#000" stroke-width="2.1" stroke-opacity="0.75"/>
<line x1="480.9" y1="854.6" x2="616.5" y2="844.0" stroke="#000" stroke-width="2.1" stroke-opacity="0.75"/>
<line x1="480.9" y1="854.6" x2="335.5" y2="856.0" stroke="#000" stroke-width="2.1" stroke-opacity="0.75"/>
<line x1="480.9" y1="854.6" x2="415.3" y2="854.0" stroke="#000" stroke-width="2.1" stroke-opacity="0.75"/>
<line x1="480.9" y1="854.6" x2="329.5" y2="866.6" stroke="#000" stroke-width="2.1" stroke-opacity="0.75"/>
<line x1="480.9" y1="854.6" x2="359.7" y2="863.3" stroke="#000" stroke-width="2.1" stroke-opacity="0.75"/>
<line x1="480.9" y1="854.6" x2="741.8" y2="875.0" stroke="#000" stroke-width="2.1" stroke-opacity="0.75"/>
<line x1="480.9" y1="854.6" x2="370.5" y2="883.3" stroke="#000" stroke-width="2.1" stroke-opacity="0.75"/>
<line x1="480.9" y1="854.6" x2="323.8" y2="900.0" stroke="#000" stroke-width="2.1" stroke-opacity="0.75"/>
<line x1="480.9" y1="854.6" x2="433.8" y2="911.7" stroke="#000" stroke-width="2.1" stroke-opacity="0.75"/>
<line x1="480.9" y1="854.6" x2="526.3" y2="913.0" stroke="#000" stroke-width="2.1" stroke-opacity="0.75"/>
<line x1="480.9" y1="854.6" x2="565.9" y2="925.3" stroke="#000" stroke-width="2.1" stroke-opacity="0.75"/>
<line x1="480.9" y1="854.6" x2="637.8" y2="895.6" stroke="#000" stroke-width="2.1" stroke-opacity="0.75"/>
<line x1="480.9" y1="854.6" x2="557.2" y2="899.8" stroke="#000" stroke-width="2.1" stroke-opacity="0.75"/>
<line x1="480.9" y1="854.6" x2="502.8" y2="896.9" stroke="#000" stroke-width="2.1" stroke-opacity="0.75"/>
<line x1="480.9" y1="854.6" x2="514.5" y2="960.7" stroke="#000" stroke-width="2.1" stroke-opacity="0.75"/>
<line x1="480.9" y1="854.6" x2="478.1" y2="974.8" stroke="#000" stroke-width="2.1" stroke-opacity="0.75"/>
<line x1="480.9" y1="854.6" x2="432.0" y2="875.0" stroke="#000" stroke-width="2.1" stroke-opacity="0.75"/>
<line x1="480.9" y1="854.6" x2="518.0" y2="873.0" stroke="#000" stroke-width="2.1" stroke-opacity="0.75"/>
<line x1="480.9" y1="854.6" x2="482.3" y2="874.2" stroke="#000" stroke-width="2.1" stroke-opacity="0.75"/>
<line x1="384.3" y1="898.3" x2="483.7" y2="653.7" stroke="#000" stroke-width="2.1" stroke-opacity="0.75"/>
<line x1="384.3" y1="898.3" x2="483.8" y2="787.6" stroke="#000" stroke-width="2.1" stroke-opacity="0.75"/>
<line x1="384.3" y1="898.3" x2="286.3" y2="886.3" stroke="#000" stroke-width="2.1" stroke-opacity="0.75"/>
<line x1="384.3" y1="898.3" x2="237.4" y2="951.2" stroke="#000" stroke-width="2.1" stroke-opacity="0.75"/>
<line x1="384.3" y1="898.3" x2="259.0" y2="958.2" stroke="#000" stroke-width="2.1" stroke-opacity="0.75"/>
<line x1="384.3" y1="898.3" x2="368.1" y2="951.5" stroke="#000" stroke-width="2.1" stroke-opacity="0.75"/>
<line x1="384.3" y1="898.3" x2="462.5" y2="942.6" stroke="#000" stroke-width="2.1" stroke-opacity="0.75"/>
<line x1="384.3" y1="898.3" x2="444.2" y2="954.5" stroke="#000" stroke-width="2.1" stroke-opacity="0.75"/>
<line x1="384.3" y1="898.3" x2="431.5" y2="993.5" stroke="#000" stroke-width="2.1" stroke-opacity="0.75"/>
<line x1="469.0" y1="887.8" x2="224.0" y2="824.7" stroke="#000" stroke-width="2.1" stroke-opacity="0.75"/>
<line x1="469.0" y1="887.8" x2="259.4" y2="852.8" stroke="#000" stroke-width="2.1" stroke-opacity="0.75"/>
<line x1="469.0" y1="887.8" x2="224.5" y2="885.5" stroke="#000" stroke-width="2.1" stroke-opacity="0.75"/>
<line x1="469.0" y1="887.8" x2="246.3" y2="892.4" stroke="#000" stroke-width="2.1" stroke-opacity="0.75"/>
<line x1="469.0" y1="887.8" x2="335.5" y2="948.5" stroke="#000" stroke-width="2.1" stroke-opacity="0.75"/>
<line x1="469.0" y1="887.8" x2="276.6" y2="993.3" stroke="#000" stroke-width="2.1" stroke-opacity="0.75"/>
<line x1="469.0" y1="887.8" x2="436.9" y2="820.5" stroke="#000" stroke-width="2.1" stroke-opacity="0.75"/>
<line x1="469.0" y1="887.8" x2="438.0" y2="832.0" stroke="#000" stroke-width="2.1" stroke-opacity="0.75"/>
<line x1="469.0" y1="887.8" x2="395.2" y2="858.2" stroke="#000" stroke-width="2.1" stroke-opacity="0.75"/>
<line x1="469.0" y1="887.8" x2="502.5" y2="843.5" stroke="#000" stroke-width="2.1" stroke-opacity="0.75"/>
<line x1="469.0" y1="887.8" x2="532.6" y2="855.6" stroke="#000" stroke-width="2.1" stroke-opacity="0.75"/>
<line x1="469.0" y1="887.8" x2="606.0" y2="867.2" stroke="#000" stroke-width="2.1" stroke-opacity="0.75"/>
<line x1="469.0" y1="887.8" x2="516.0" y2="877.2" stroke="#000" stroke-width="2.1" stroke-opacity="0.75"/>
<line x1="469.0" y1="887.8" x2="594.5" y2="904.5" stroke="#000" stroke-width="2.1" stroke-opacity="0.75"/>
<line x1="469.0" y1="887.8" x2="619.8" y2="916.5" stroke="#000" stroke-width="2.1" stroke-opacity="0.75"/>
<line x1="469.0" y1="887.8" x2="653.7" y2="911.7" stroke="#000" stroke-width="2.1" stroke-opacity="0.75"/>
<line x1="469.0" y1="887.8" x2="664.6" y2="906.4" stroke="#000" stroke-width="2.1" stroke-opacity="0.75"/>
<line x1="469.0" y1="887.8" x2="721.7" y2="892.7" stroke="#000" stroke-width="2.1" stroke-opacity="0.75"/>
<line x1="469.0" y1="887.8" x2="732.9" y2="959.3" stroke="#000" stroke-width="2.1" stroke-opacity="0.75"/>
<line x1="469.0" y1="887.8" x2="430.0" y2="938.0" stroke="#000" stroke-width="2.1" stroke-opacity="0.75"/>
<line x1="469.0" y1="887.8" x2="436.0" y2="857.0" stroke="#000" stroke-width="2.1" stroke-opacity="0.75"/>
<ellipse cx="470" cy="852" rx="105" ry="63" transform="rotate(-41 470 852)" fill="none" stroke="#000" stroke-opacity="0.75" stroke-width="2.0"/>
<ellipse cx="475" cy="887" rx="131" ry="44" transform="rotate(3 475 887)" fill="none" stroke="#000" stroke-opacity="0.75" stroke-width="2.0"/>
<rect x="446.0" y="844.7" width="69.8" height="19.8" fill="#fff" stroke="#444" stroke-width="1.6"/>
<text x="448.3" y="861.4" font-family="Liberation Sans, sans-serif" font-size="19.19" font-weight="normal" fill="#1a1a2a" text-anchor="start" textLength="63.8" lengthAdjust="spacingAndGlyphs" stroke="#1a1a2a" stroke-width="0.35">NPVP</text>
<rect x="441.9" y="878.5" width="54.1" height="18.6" fill="#fff" stroke="#444" stroke-width="1.6"/>
<text x="445.1" y="893.3" font-family="Liberation Sans, sans-serif" font-size="18.75" font-weight="normal" fill="#1a1a2a" text-anchor="start" textLength="46.3" lengthAdjust="spacingAndGlyphs" stroke="#1a1a2a" stroke-width="0.35">PEP</text>
<rect x="357.3" y="889.0" width="54.0" height="18.6" fill="#fff" stroke="#444" stroke-width="1.6"/>
<text x="361.6" y="905.0" font-family="Liberation Sans, sans-serif" font-size="19.62" font-weight="normal" fill="#1a1a2a" text-anchor="start" textLength="45.0" lengthAdjust="spacingAndGlyphs" stroke="#1a1a2a" stroke-width="0.35">FTC</text>
<ellipse cx="708.4" cy="632.1" rx="6.9" ry="5.8" fill="#8b0000"/>
<ellipse cx="708.4" cy="662" rx="6.9" ry="5.8" fill="#00ee00"/>
<ellipse cx="708.4" cy="691.9" rx="6.9" ry="5.8" fill="#ffff00"/>
<text x="734.6" y="640.6" font-family="Liberation Sans, sans-serif" font-size="25.5" font-weight="normal" fill="#111" text-anchor="start" textLength="60.9" lengthAdjust="spacingAndGlyphs" stroke="#111" stroke-width="0.7">FTC</text>
<text x="734.6" y="671.3" font-family="Liberation Sans, sans-serif" font-size="25.5" font-weight="normal" fill="#111" text-anchor="start" textLength="84.2" lengthAdjust="spacingAndGlyphs" stroke="#111" stroke-width="0.7">NPVP</text>
<text x="734.6" y="701.6" font-family="Liberation Sans, sans-serif" font-size="25.5" font-weight="normal" fill="#111" text-anchor="start" textLength="62.4" lengthAdjust="spacingAndGlyphs" stroke="#111" stroke-width="0.7">PEP</text>
<line x1="699.0" y1="721.3" x2="831.6" y2="721.3" stroke="#999" stroke-width="1.6"/>
</g>
<g id="panelD">
<line x1="1249.4" y1="619.0" x2="1249.4" y2="1010.0" stroke="#4a4a4a" stroke-width="1.9"/>
<line x1="1248.5" y1="1009.1" x2="2004.6" y2="1009.1" stroke="#4a4a4a" stroke-width="1.9"/>
<line x1="1231.4" y1="663.5" x2="1249.4" y2="663.5" stroke="#4a4a4a" stroke-width="1.9"/>
<line x1="1231.4" y1="721.2" x2="1249.4" y2="721.2" stroke="#4a4a4a" stroke-width="1.9"/>
<line x1="1231.4" y1="778.3" x2="1249.4" y2="778.3" stroke="#4a4a4a" stroke-width="1.9"/>
<line x1="1231.4" y1="835.5" x2="1249.4" y2="835.5" stroke="#4a4a4a" stroke-width="1.9"/>
<line x1="1231.4" y1="892.2" x2="1249.4" y2="892.2" stroke="#4a4a4a" stroke-width="1.9"/>
<line x1="1231.4" y1="950.0" x2="1249.4" y2="950.0" stroke="#4a4a4a" stroke-width="1.9"/>
<line x1="1231.4" y1="1006.8" x2="1249.4" y2="1006.8" stroke="#4a4a4a" stroke-width="1.9"/>
<line x1="1357.3" y1="1009.1" x2="1357.3" y2="1023.7" stroke="#4a4a4a" stroke-width="1.9"/>
<line x1="1507.5" y1="1009.1" x2="1507.5" y2="1023.7" stroke="#4a4a4a" stroke-width="1.9"/>
<line x1="1658.0" y1="1009.1" x2="1658.0" y2="1023.7" stroke="#4a4a4a" stroke-width="1.9"/>
<line x1="1808.0" y1="1009.1" x2="1808.0" y2="1023.7" stroke="#4a4a4a" stroke-width="1.9"/>
<line x1="1959.5" y1="1009.1" x2="1959.5" y2="1023.7" stroke="#4a4a4a" stroke-width="1.9"/>
<g transform="translate(1208.8,663.6) scale(1.62,1) rotate(-90)"><text x="0" y="0" font-family="Liberation Sans, sans-serif" font-size="19.5" fill="#111" text-anchor="middle" textLength="31.6" lengthAdjust="spacingAndGlyphs" stroke="#111" stroke-width="0.7">0.3</text></g>
<g transform="translate(1208.8,721.2) scale(1.62,1) rotate(-90)"><text x="0" y="0" font-family="Liberation Sans, sans-serif" font-size="19.5" fill="#111" text-anchor="middle" textLength="31.6" lengthAdjust="spacingAndGlyphs" stroke="#111" stroke-width="0.7">0.2</text></g>
<g transform="translate(1208.8,778.2) scale(1.62,1) rotate(-90)"><text x="0" y="0" font-family="Liberation Sans, sans-serif" font-size="19.5" fill="#111" text-anchor="middle" textLength="31.6" lengthAdjust="spacingAndGlyphs" stroke="#111" stroke-width="0.7">0.1</text></g>
<g transform="translate(1208.8,835.5) scale(1.62,1) rotate(-90)"><text x="0" y="0" font-family="Liberation Sans, sans-serif" font-size="19.5" fill="#111" text-anchor="middle" textLength="31.6" lengthAdjust="spacingAndGlyphs" stroke="#111" stroke-width="0.7">0.0</text></g>
<g transform="translate(1208.8,892.2) scale(1.62,1) rotate(-90)"><text x="0" y="0" font-family="Liberation Sans, sans-serif" font-size="19.5" fill="#111" text-anchor="middle" textLength="46.3" lengthAdjust="spacingAndGlyphs" stroke="#111" stroke-width="0.7">−0.1</text></g>
<g transform="translate(1208.8,1006.8) scale(1.62,1) rotate(-90)"><text x="0" y="0" font-family="Liberation Sans, sans-serif" font-size="19.5" fill="#111" text-anchor="middle" textLength="46.3" lengthAdjust="spacingAndGlyphs" stroke="#111" stroke-width="0.7">−0.3</text></g>
<text x="1357.5" y="1057.0" font-family="Liberation Sans, sans-serif" font-size="24" font-weight="normal" fill="#111" text-anchor="middle" textLength="55.5" lengthAdjust="spacingAndGlyphs" stroke="#111" stroke-width="0.7">−0.4</text>
<text x="1508.0" y="1057.0" font-family="Liberation Sans, sans-serif" font-size="24" font-weight="normal" fill="#111" text-anchor="middle" textLength="58.0" lengthAdjust="spacingAndGlyphs" stroke="#111" stroke-width="0.7">−0.2</text>
<text x="1658.4" y="1057.0" font-family="Liberation Sans, sans-serif" font-size="24" font-weight="normal" fill="#111" text-anchor="middle" textLength="40.8" lengthAdjust="spacingAndGlyphs" stroke="#111" stroke-width="0.7">0.0</text>
<text x="1808.3" y="1057.0" font-family="Liberation Sans, sans-serif" font-size="24" font-weight="normal" fill="#111" text-anchor="middle" textLength="40.0" lengthAdjust="spacingAndGlyphs" stroke="#111" stroke-width="0.7">0.2</text>
<text x="1959.2" y="1057.0" font-family="Liberation Sans, sans-serif" font-size="24" font-weight="normal" fill="#111" text-anchor="middle" textLength="41.3" lengthAdjust="spacingAndGlyphs" stroke="#111" stroke-width="0.7">0.4</text>
<text x="1629.4" y="1110.0" font-family="Liberation Sans, sans-serif" font-size="24.5" font-weight="normal" fill="#111" text-anchor="middle" textLength="102.2" lengthAdjust="spacingAndGlyphs" stroke="#111" stroke-width="0.7">NMDS1</text>
<g transform="translate(1136.3,810.0) scale(1.26,1) rotate(-90)"><text x="0" y="0" font-family="Liberation Sans, sans-serif" font-size="24.5" fill="#111" text-anchor="middle" textLength="78.2" lengthAdjust="spacingAndGlyphs" stroke="#111" stroke-width="0.7">NMDS2</text></g>
<clipPath id="clipD"><rect x="1249" y="619" width="760" height="390"/></clipPath>
<g clip-path="url(#clipD)">
<ellipse cx="1320.0" cy="712.8" rx="13.5" ry="10.6" fill="#08ff08"/>
<ellipse cx="1420.8" cy="723.0" rx="13.5" ry="10.6" fill="#08ff08"/>
<ellipse cx="1709.0" cy="626.0" rx="13.5" ry="10.6" fill="#08ff08"/>
<ellipse cx="1802.2" cy="664.9" rx="13.5" ry="10.6" fill="#08ff08"/>
<ellipse cx="1847.6" cy="714.2" rx="13.5" ry="10.6" fill="#08ff08"/>
<ellipse cx="1527.7" cy="777.4" rx="13.5" ry="10.6" fill="#08ff08"/>
<ellipse cx="1567.1" cy="802.0" rx="13.5" ry="10.6" fill="#08ff08"/>
<ellipse cx="1748.6" cy="785.2" rx="13.5" ry="10.6" fill="#08ff08"/>
<ellipse cx="1712.4" cy="799.3" rx="13.5" ry="10.6" fill="#08ff08"/>
<ellipse cx="1657.7" cy="788.5" rx="13.5" ry="10.6" fill="#08ff08"/>
<ellipse cx="1650.2" cy="802.0" rx="13.5" ry="10.6" fill="#08ff08"/>
<ellipse cx="1591.6" cy="818.2" rx="13.5" ry="10.6" fill="#08ff08"/>
<ellipse cx="1606.7" cy="807.6" rx="13.5" ry="10.6" fill="#08ff08"/>
<ellipse cx="1770.2" cy="834.8" rx="13.5" ry="10.6" fill="#08ff08"/>
<ellipse cx="1752.1" cy="851.0" rx="13.5" ry="10.6" fill="#08ff08"/>
<ellipse cx="1715.1" cy="864.3" rx="13.5" ry="10.6" fill="#08ff08"/>
<ellipse cx="1740.8" cy="868.0" rx="13.5" ry="10.6" fill="#08ff08"/>
<ellipse cx="1754.0" cy="881.5" rx="13.5" ry="10.6" fill="#08ff08"/>
<ellipse cx="1552.0" cy="868.8" rx="13.5" ry="10.6" fill="#08ff08"/>
<ellipse cx="1606.7" cy="890.7" rx="13.5" ry="10.6" fill="#08ff08"/>
<ellipse cx="1655.2" cy="891.0" rx="13.5" ry="10.6" fill="#08ff08"/>
<ellipse cx="1693.0" cy="897.9" rx="13.5" ry="10.6" fill="#08ff08"/>
<ellipse cx="1651.8" cy="908.5" rx="13.5" ry="10.6" fill="#08ff08"/>
<ellipse cx="1603.5" cy="915.2" rx="13.5" ry="10.6" fill="#08ff08"/>
<ellipse cx="1832.8" cy="926.3" rx="13.5" ry="10.6" fill="#08ff08"/>
<ellipse cx="1642.6" cy="860.5" rx="13.5" ry="10.6" fill="#08ff08"/>
<ellipse cx="1631.4" cy="846.5" rx="13.5" ry="10.6" fill="#08ff08"/>
<ellipse cx="1371.5" cy="718.0" rx="13.5" ry="10.6" fill="#ffff00"/>
<ellipse cx="1654.5" cy="753.0" rx="13.5" ry="10.6" fill="#ffff00"/>
<ellipse cx="1554.5" cy="780.6" rx="13.5" ry="10.6" fill="#ffff00"/>
<ellipse cx="1835.1" cy="752.9" rx="13.5" ry="10.6" fill="#ffff00"/>
<ellipse cx="1940.7" cy="708.3" rx="13.5" ry="10.6" fill="#ffff00"/>
<ellipse cx="1827.6" cy="794.4" rx="13.5" ry="10.6" fill="#ffff00"/>
<ellipse cx="1812.5" cy="820.8" rx="13.5" ry="10.6" fill="#ffff00"/>
<ellipse cx="1570.9" cy="819.0" rx="13.5" ry="10.6" fill="#ffff00"/>
<ellipse cx="1569.0" cy="834.8" rx="13.5" ry="10.6" fill="#ffff00"/>
<ellipse cx="1567.1" cy="851.0" rx="13.5" ry="10.6" fill="#ffff00"/>
<ellipse cx="1603.0" cy="847.3" rx="13.5" ry="10.6" fill="#ffff00"/>
<ellipse cx="1882.9" cy="863.9" rx="13.5" ry="10.6" fill="#ffff00"/>
<ellipse cx="1835.8" cy="871.3" rx="13.5" ry="10.6" fill="#ffff00"/>
<ellipse cx="1798.0" cy="865.0" rx="13.5" ry="10.6" fill="#ffff00"/>
<ellipse cx="1586.2" cy="888.7" rx="13.5" ry="10.6" fill="#ffff00"/>
<ellipse cx="1617.7" cy="911.5" rx="13.5" ry="10.6" fill="#ffff00"/>
<ellipse cx="1636.9" cy="924.0" rx="13.5" ry="10.6" fill="#ffff00"/>
<ellipse cx="1673.2" cy="898.0" rx="13.5" ry="10.6" fill="#ffff00"/>
<ellipse cx="1727.5" cy="909.5" rx="13.5" ry="10.6" fill="#ffff00"/>
<ellipse cx="1764.2" cy="930.2" rx="13.5" ry="10.6" fill="#ffff00"/>
<ellipse cx="1640.7" cy="781.0" rx="13.5" ry="10.6" fill="#8b0000"/>
<ellipse cx="1745.4" cy="759.6" rx="13.5" ry="10.6" fill="#8b0000"/>
<ellipse cx="1557.7" cy="860.5" rx="13.5" ry="10.6" fill="#8b0000"/>
<ellipse cx="1574.6" cy="871.8" rx="13.5" ry="10.6" fill="#8b0000"/>
<ellipse cx="1707.8" cy="916.7" rx="13.5" ry="10.6" fill="#8b0000"/>
<ellipse cx="1630.8" cy="994.0" rx="13.5" ry="10.6" fill="#8b0000"/>
</g>
<line x1="1657.3" y1="822.2" x2="1320.0" y2="712.8" stroke="#000" stroke-width="1.8" stroke-opacity="0.75"/>
<line x1="1657.3" y1="822.2" x2="1420.8" y2="723.0" stroke="#000" stroke-width="1.8" stroke-opacity="0.75"/>
<line x1="1657.3" y1="822.2" x2="1709.0" y2="626.0" stroke="#000" stroke-width="1.8" stroke-opacity="0.75"/>
<line x1="1657.3" y1="822.2" x2="1802.2" y2="664.9" stroke="#000" stroke-width="1.8" stroke-opacity="0.75"/>
<line x1="1657.3" y1="822.2" x2="1847.6" y2="714.2" stroke="#000" stroke-width="1.8" stroke-opacity="0.75"/>
<line x1="1657.3" y1="822.2" x2="1527.7" y2="777.4" stroke="#000" stroke-width="1.8" stroke-opacity="0.75"/>
<line x1="1657.3" y1="822.2" x2="1567.1" y2="802.0" stroke="#000" stroke-width="1.8" stroke-opacity="0.75"/>
<line x1="1657.3" y1="822.2" x2="1748.6" y2="785.2" stroke="#000" stroke-width="1.8" stroke-opacity="0.75"/>
<line x1="1657.3" y1="822.2" x2="1712.4" y2="799.3" stroke="#000" stroke-width="1.8" stroke-opacity="0.75"/>
<line x1="1657.3" y1="822.2" x2="1657.7" y2="788.5" stroke="#000" stroke-width="1.8" stroke-opacity="0.75"/>
<line x1="1657.3" y1="822.2" x2="1650.2" y2="802.0" stroke="#000" stroke-width="1.8" stroke-opacity="0.75"/>
<line x1="1657.3" y1="822.2" x2="1591.6" y2="818.2" stroke="#000" stroke-width="1.8" stroke-opacity="0.75"/>
<line x1="1657.3" y1="822.2" x2="1606.7" y2="807.6" stroke="#000" stroke-width="1.8" stroke-opacity="0.75"/>
<line x1="1657.3" y1="822.2" x2="1770.2" y2="834.8" stroke="#000" stroke-width="1.8" stroke-opacity="0.75"/>
<line x1="1657.3" y1="822.2" x2="1752.1" y2="851.0" stroke="#000" stroke-width="1.8" stroke-opacity="0.75"/>
<line x1="1657.3" y1="822.2" x2="1715.1" y2="864.3" stroke="#000" stroke-width="1.8" stroke-opacity="0.75"/>
<line x1="1657.3" y1="822.2" x2="1740.8" y2="868.0" stroke="#000" stroke-width="1.8" stroke-opacity="0.75"/>
<line x1="1657.3" y1="822.2" x2="1754.0" y2="881.5" stroke="#000" stroke-width="1.8" stroke-opacity="0.75"/>
<line x1="1657.3" y1="822.2" x2="1552.0" y2="868.8" stroke="#000" stroke-width="1.8" stroke-opacity="0.75"/>
<line x1="1657.3" y1="822.2" x2="1606.7" y2="890.7" stroke="#000" stroke-width="1.8" stroke-opacity="0.75"/>
<line x1="1657.3" y1="822.2" x2="1655.2" y2="891.0" stroke="#000" stroke-width="1.8" stroke-opacity="0.75"/>
<line x1="1657.3" y1="822.2" x2="1693.0" y2="897.9" stroke="#000" stroke-width="1.8" stroke-opacity="0.75"/>
<line x1="1657.3" y1="822.2" x2="1651.8" y2="908.5" stroke="#000" stroke-width="1.8" stroke-opacity="0.75"/>
<line x1="1657.3" y1="822.2" x2="1603.5" y2="915.2" stroke="#000" stroke-width="1.8" stroke-opacity="0.75"/>
<line x1="1657.3" y1="822.2" x2="1832.8" y2="926.3" stroke="#000" stroke-width="1.8" stroke-opacity="0.75"/>
<line x1="1657.3" y1="822.2" x2="1642.6" y2="860.5" stroke="#000" stroke-width="1.8" stroke-opacity="0.75"/>
<line x1="1657.3" y1="822.2" x2="1631.4" y2="846.5" stroke="#000" stroke-width="1.8" stroke-opacity="0.75"/>
<line x1="1674.1" y1="842.6" x2="1371.5" y2="718.0" stroke="#000" stroke-width="1.8" stroke-opacity="0.75"/>
<line x1="1674.1" y1="842.6" x2="1654.5" y2="753.0" stroke="#000" stroke-width="1.8" stroke-opacity="0.75"/>
<line x1="1674.1" y1="842.6" x2="1554.5" y2="780.6" stroke="#000" stroke-width="1.8" stroke-opacity="0.75"/>
<line x1="1674.1" y1="842.6" x2="1835.1" y2="752.9" stroke="#000" stroke-width="1.8" stroke-opacity="0.75"/>
<line x1="1674.1" y1="842.6" x2="1940.7" y2="708.3" stroke="#000" stroke-width="1.8" stroke-opacity="0.75"/>
<line x1="1674.1" y1="842.6" x2="1827.6" y2="794.4" stroke="#000" stroke-width="1.8" stroke-opacity="0.75"/>
<line x1="1674.1" y1="842.6" x2="1812.5" y2="820.8" stroke="#000" stroke-width="1.8" stroke-opacity="0.75"/>
<line x1="1674.1" y1="842.6" x2="1570.9" y2="819.0" stroke="#000" stroke-width="1.8" stroke-opacity="0.75"/>
<line x1="1674.1" y1="842.6" x2="1569.0" y2="834.8" stroke="#000" stroke-width="1.8" stroke-opacity="0.75"/>
<line x1="1674.1" y1="842.6" x2="1567.1" y2="851.0" stroke="#000" stroke-width="1.8" stroke-opacity="0.75"/>
<line x1="1674.1" y1="842.6" x2="1603.0" y2="847.3" stroke="#000" stroke-width="1.8" stroke-opacity="0.75"/>
<line x1="1674.1" y1="842.6" x2="1882.9" y2="863.9" stroke="#000" stroke-width="1.8" stroke-opacity="0.75"/>
<line x1="1674.1" y1="842.6" x2="1835.8" y2="871.3" stroke="#000" stroke-width="1.8" stroke-opacity="0.75"/>
<line x1="1674.1" y1="842.6" x2="1798.0" y2="865.0" stroke="#000" stroke-width="1.8" stroke-opacity="0.75"/>
<line x1="1674.1" y1="842.6" x2="1586.2" y2="888.7" stroke="#000" stroke-width="1.8" stroke-opacity="0.75"/>
<line x1="1674.1" y1="842.6" x2="1617.7" y2="911.5" stroke="#000" stroke-width="1.8" stroke-opacity="0.75"/>
<line x1="1674.1" y1="842.6" x2="1636.9" y2="924.0" stroke="#000" stroke-width="1.8" stroke-opacity="0.75"/>
<line x1="1674.1" y1="842.6" x2="1673.2" y2="898.0" stroke="#000" stroke-width="1.8" stroke-opacity="0.75"/>
<line x1="1674.1" y1="842.6" x2="1727.5" y2="909.5" stroke="#000" stroke-width="1.8" stroke-opacity="0.75"/>
<line x1="1674.1" y1="842.6" x2="1764.2" y2="930.2" stroke="#000" stroke-width="1.8" stroke-opacity="0.75"/>
<line x1="1609.8" y1="869.5" x2="1640.7" y2="781.0" stroke="#000" stroke-width="1.8" stroke-opacity="0.75"/>
<line x1="1609.8" y1="869.5" x2="1745.4" y2="759.6" stroke="#000" stroke-width="1.8" stroke-opacity="0.75"/>
<line x1="1609.8" y1="869.5" x2="1557.7" y2="860.5" stroke="#000" stroke-width="1.8" stroke-opacity="0.75"/>
<line x1="1609.8" y1="869.5" x2="1574.6" y2="871.8" stroke="#000" stroke-width="1.8" stroke-opacity="0.75"/>
<line x1="1609.8" y1="869.5" x2="1707.8" y2="916.7" stroke="#000" stroke-width="1.8" stroke-opacity="0.75"/>
<line x1="1609.8" y1="869.5" x2="1630.8" y2="994.0" stroke="#000" stroke-width="1.8" stroke-opacity="0.75"/>
<line x1="1609.8" y1="869.5" x2="1482.0" y2="886.0" stroke="#000" stroke-width="1.8" stroke-opacity="0.75"/>
<ellipse cx="1669.5" cy="779.5" rx="146" ry="35" transform="rotate(-57.9 1669.5 779.5)" fill="none" stroke="#000" stroke-opacity="0.75" stroke-width="2.0"/>
<ellipse cx="1738" cy="861" rx="88" ry="51" transform="rotate(42 1738 861)" fill="none" stroke="#000" stroke-opacity="0.75" stroke-width="2.0"/>
<ellipse cx="1634.5" cy="856.5" rx="86" ry="32" transform="rotate(17.6 1634.5 856.5)" fill="none" stroke="#000" stroke-opacity="0.75" stroke-width="2.0"/>
<rect x="1620.0" y="813.3" width="74.7" height="17.7" fill="#fff" stroke="#444" stroke-width="1.6"/>
<text x="1621.4" y="827.9" font-family="Liberation Sans, sans-serif" font-size="19.33" font-weight="normal" fill="#1a1a2a" text-anchor="start" textLength="69.7" lengthAdjust="spacingAndGlyphs" stroke="#1a1a2a" stroke-width="0.35">NPVP</text>
<rect x="1644.5" y="833.3" width="59.3" height="18.5" fill="#fff" stroke="#444" stroke-width="1.6"/>
<text x="1648.6" y="848.7" font-family="Liberation Sans, sans-serif" font-size="19.04" font-weight="normal" fill="#1a1a2a" text-anchor="start" textLength="52.8" lengthAdjust="spacingAndGlyphs" stroke="#1a1a2a" stroke-width="0.35">PEP</text>
<rect x="1581.5" y="859.7" width="56.5" height="19.7" fill="#fff" stroke="#444" stroke-width="1.6"/>
<text x="1584.8" y="875.6" font-family="Liberation Sans, sans-serif" font-size="18.60" font-weight="normal" fill="#1a1a2a" text-anchor="start" textLength="50.1" lengthAdjust="spacingAndGlyphs" stroke="#1a1a2a" stroke-width="0.35">FTC</text>
<ellipse cx="1876.8" cy="602.5" rx="6.9" ry="5.8" fill="#8b0000"/>
<ellipse cx="1876.8" cy="632.8" rx="6.9" ry="5.8" fill="#00ee00"/>
<ellipse cx="1876.8" cy="663" rx="6.9" ry="5.8" fill="#ffff00"/>
<text x="1903.0" y="610.3" font-family="Liberation Sans, sans-serif" font-size="25.5" font-weight="normal" fill="#111" text-anchor="start" textLength="60.5" lengthAdjust="spacingAndGlyphs" stroke="#111" stroke-width="0.7">FTC</text>
<text x="1903.0" y="641.2" font-family="Liberation Sans, sans-serif" font-size="25.5" font-weight="normal" fill="#111" text-anchor="start" textLength="83.4" lengthAdjust="spacingAndGlyphs" stroke="#111" stroke-width="0.7">NPVP</text>
<text x="1903.0" y="672.2" font-family="Liberation Sans, sans-serif" font-size="25.5" font-weight="normal" fill="#111" text-anchor="start" textLength="61.9" lengthAdjust="spacingAndGlyphs" stroke="#111" stroke-width="0.7">PEP</text>
</g>
</g>
</svg>
</body></html>
